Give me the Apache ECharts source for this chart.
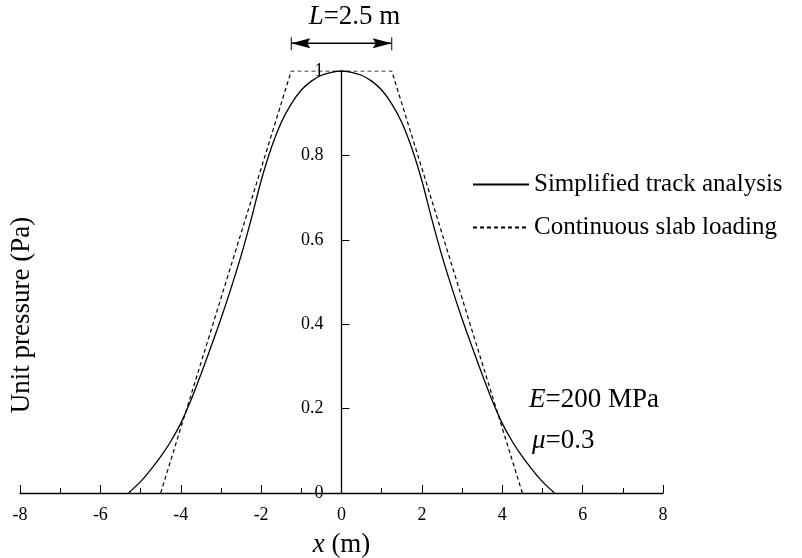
<!DOCTYPE html>
<html>
<head>
<meta charset="utf-8">
<script src="https://cdn.jsdelivr.net/npm/echarts@6/dist/echarts.min.js"></script>
<style>html,body{margin:0;padding:0;background:#fff}#c{width:802px;height:558px}</style>
</head>
<body>
<div id="c"></div>
<script>
// ---- data ----
var seriesNames = ['Simplified track analysis', 'Continuous slab loading'];
var solidX = [-5.3,-5.0,-4.75,-4.5,-4.25,-4.0,-3.75,-3.5,-3.25,-3.0,-2.75,-2.5,-2.25,-2.0,-1.75,-1.5,-1.25,-1.0,-0.75,-0.5,-0.25,0,
              0.25,0.5,0.75,1.0,1.25,1.5,1.75,2.0,2.25,2.5,2.75,3.0,3.25,3.5,3.75,4.0,4.25,4.5,4.75,5.0,5.3];
var solidY = [0,0.027,0.055,0.086,0.122,0.165,0.219,0.281,0.346,0.413,0.485,0.562,0.648,0.74,0.817,0.878,0.922,0.955,0.976,0.99,0.997,1,
              0.997,0.99,0.976,0.955,0.922,0.878,0.817,0.74,0.648,0.562,0.485,0.413,0.346,0.281,0.219,0.165,0.122,0.086,0.055,0.027,0];
var slabX = [-4.5,-1.25,1.25,4.5];
var slabY = [0,1,1,0];
var slabLength = 2.5;
var dimLineY = 1.066;
var xTicks = {min:-8, max:8, interval:2};
var yTicks = {min:0, max:1, interval:0.2};

var FONT = 'Liberation Serif';
function pairs(xs, ys){ return xs.map(function(x,i){ return [x, ys[i]]; }); }
var half = slabLength/2;
var GRID = {left:20, right:139, top:71, bottom:65};

var chart = echarts.init(document.getElementById('c'), null, {renderer:'canvas'});
var annFont = '27px "Liberation Serif"';
var option = {
  animation:false,
  backgroundColor:'#fff',
  grid:{left:GRID.left, right:GRID.right, top:GRID.top, bottom:GRID.bottom, containLabel:false, outerBoundsMode:'none'},
  xAxis:{
    type:'value', min:xTicks.min, max:xTicks.max, interval:xTicks.interval,
    axisLine:{onZero:false, lineStyle:{color:'#000', width:1.3}},
    axisTick:{inside:true, length:8, lineStyle:{color:'#000'}},
    minorTick:{show:true, splitNumber:2, length:5, lineStyle:{color:'#000'}},
    splitLine:{show:false},
    axisLabel:{color:'#000', fontFamily:FONT, fontSize:18, margin:13},
    name:'{i|x} (m)', nameLocation:'middle', nameGap:38,
    nameTextStyle:{color:'#000', fontFamily:FONT, fontSize:27, rich:{i:{fontStyle:'italic', fontFamily:FONT, fontSize:27, color:'#000'}}}
  },
  yAxis:{
    type:'value', min:yTicks.min, max:yTicks.max, interval:yTicks.interval,
    offset:0,
    axisLine:{onZero:false, lineStyle:{color:'#000', width:1.3}},
    axisTick:{inside:true, length:8, lineStyle:{color:'#000'}},
    splitLine:{show:false},
    axisLabel:{color:'#000', fontFamily:FONT, fontSize:18, margin:18}
  },
  legend:{
    orient:'vertical', left:467, top:167, itemGap:18,
    itemWidth:56, itemHeight:14,
    itemStyle:{opacity:0},
    textStyle:{color:'#000', fontFamily:FONT, fontSize:25, lineHeight:24},
    data:seriesNames
  },
  series:[
    {name:seriesNames[0], type:'line', data:pairs(solidX, solidY), symbol:'none', smooth:0.3,
     lineStyle:{color:'#000', width:1.3}, itemStyle:{color:'#000'}},
    {name:seriesNames[1], type:'line', data:pairs(slabX, slabY), symbol:'none',
     lineStyle:{color:'#000', width:1.2, type:[4,3]}, itemStyle:{color:'#000'}}
  ]
};
chart.setOption(option);

// place y axis at x = 0 and draw the dimension arrow from data coordinates
var p0 = chart.convertToPixel({gridIndex:0}, [0, 0]);
var pL = chart.convertToPixel({gridIndex:0}, [-half, dimLineY]);
var pR = chart.convertToPixel({gridIndex:0}, [half, dimLineY]);
var pLt = chart.convertToPixel({gridIndex:0}, [-half, 1.080]);
var pLb = chart.convertToPixel({gridIndex:0}, [-half, 1.049]);
var head = 19, hw = 5;
chart.setOption({
  yAxis:{offset: -(p0[0] - GRID.left)},
  graphic:[
    {type:'line', shape:{x1:pL[0], y1:pL[1], x2:pR[0], y2:pR[1]}, style:{stroke:'#000', lineWidth:1.5}},
    {type:'line', shape:{x1:pL[0], y1:pLt[1], x2:pL[0], y2:pLb[1]}, style:{stroke:'#000', lineWidth:1}},
    {type:'line', shape:{x1:pR[0], y1:pLt[1], x2:pR[0], y2:pLb[1]}, style:{stroke:'#000', lineWidth:1}},
    {type:'polygon', shape:{points:[[pL[0], pL[1]],[pL[0]+head, pL[1]-hw],[pL[0]+head-3, pL[1]],[pL[0]+head, pL[1]+hw]]}, style:{fill:'#000'}},
    {type:'polygon', shape:{points:[[pR[0], pR[1]],[pR[0]-head, pR[1]-hw],[pR[0]-head+3, pR[1]],[pR[0]-head, pR[1]+hw]]}, style:{fill:'#000'}},
    {type:'text', x:(pL[0]+pR[0])/2 + 13, y:17, style:{text:'{i|L}=2.5 m', textAlign:'center', textVerticalAlign:'middle', fill:'#000', font:annFont,
      rich:{i:{fontStyle:'italic', fontFamily:FONT, fontSize:27}}}},
    {type:'text', x:529, y:400, style:{text:'{i|E}=200 MPa', textAlign:'left', textVerticalAlign:'middle', fill:'#000', font:annFont,
      rich:{i:{fontStyle:'italic', fontFamily:FONT, fontSize:27}}}},
    {type:'text', x:532, y:441, style:{text:'{i|μ}=0.3', textAlign:'left', textVerticalAlign:'middle', fill:'#000', font:annFont,
      rich:{i:{fontStyle:'italic', fontFamily:FONT, fontSize:27}}}},
    {type:'text', x:22, y:315, rotation:Math.PI/2, style:{text:'Unit pressure (Pa)', textAlign:'center', textVerticalAlign:'middle', fill:'#000', font:annFont}}
  ]
});
</script>
</body>
</html>
